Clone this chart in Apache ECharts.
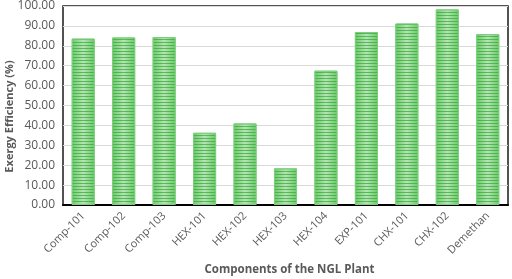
<!DOCTYPE html>
<html>
<head>
<meta charset="utf-8">
<script src="https://cdn.jsdelivr.net/npm/echarts@6/dist/echarts.min.js"></script>
<style>
html, body { margin: 0; padding: 0; background: #fff; }
#chart { width: 512px; height: 279px; }
</style>
</head>
<body>
<div id="chart"></div>
<script>
const categories = ["Comp-101", "Comp-102", "Comp-103", "HEX-101", "HEX-102", "HEX-103", "HEX-104", "EXP-101", "CHX-101", "CHX-102", "Demethan"];
const efficiency = [83.6, 84.2, 84.4, 36.3, 41.0, 18.4, 67.5, 86.9, 91.2, 98.3, 85.9];

let myCharts = echarts.init(document.getElementById("chart"));
let option = {
	animation: false,
	textStyle: { fontFamily: "Open Sans" },
	grid: {
		left: 63,
		right: 4,
		top: 6,
		bottom: 74,
		outerBoundsMode: "none",
		show: true,
		borderColor: "#1a1a1a",
		borderWidth: 1.5,
	},
	xAxis: {
		type: "category",
		data: categories,
		name: "Components of the NGL Plant",
		nameLocation: "middle",
		nameGap: 59,
		nameMoveOverlap: false,
		nameTextStyle: { fontSize: 11.5, fontWeight: "bold", color: "#595959", padding: [0, 0, 0, 8] },
		axisLine: { lineStyle: { color: "#000", width: 2 } },
		axisTick: { show: false },
		axisLabel: { rotate: 45, fontSize: 11, color: "#595959", margin: 9, interval: 0 },
	},
	yAxis: {
		type: "value",
		min: 0,
		max: 100,
		interval: 10,
		name: "Exergy Efficiency (%)",
		nameLocation: "middle",
		nameGap: 48,
		nameMoveOverlap: false,
		nameTextStyle: { fontSize: 11, fontWeight: "bold", color: "#595959", padding: [0, 22, 0, 0] },
		axisLine: { show: false },
		axisLabel: { fontSize: 12, color: "#595959", formatter: (v) => v.toFixed(2) },
		splitLine: { lineStyle: { color: "#d9d9d9", width: 1 } },
	},
	series: [
		{
			type: "bar",
			data: efficiency,
			barWidth: "57%",
			itemStyle: {
				color: {
					type: "linear", x: 0, y: 0, x2: 1, y2: 0,
					colorStops: [
						{ offset: 0, color: "#6cc86c" },
						{ offset: 0.5, color: "#b6e4b6" },
						{ offset: 1, color: "#6cc86c" },
					],
				},
				borderColor: "#7ccf7c",
				borderWidth: 1,
				decal: {
					symbol: "rect",
					color: "rgba(50,170,50,0.7)",
					dashArrayX: [1, 0],
					dashArrayY: [1, 2],
					rotation: 0,
				},
			},
		},
	],
};
myCharts.setOption(option);
</script>
</body>
</html>
